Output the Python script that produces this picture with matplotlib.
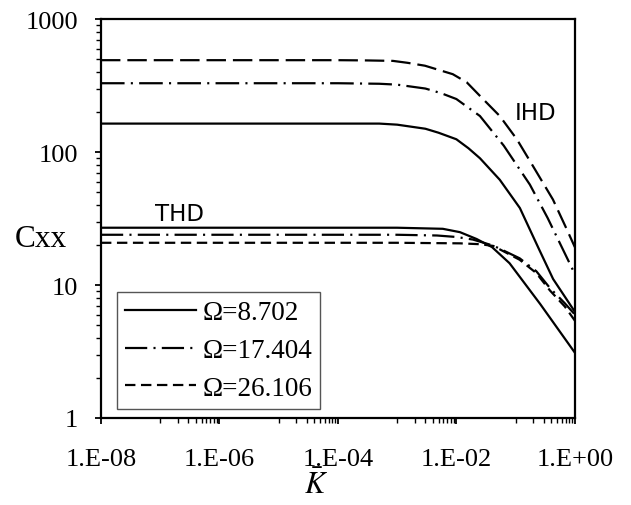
import matplotlib
matplotlib.use('Agg')
import matplotlib.pyplot as plt
from matplotlib.ticker import FixedLocator, FixedFormatter, NullFormatter

plt.rcParams['font.family'] = ['Liberation Serif', 'DejaVu Serif']
plt.rcParams['mathtext.fontset'] = 'stix'
plt.rcParams['lines.scale_dashes'] = False

# IHD curves (upper group)
k_ihd_1 = [1e-8, 1e-4, 5e-4, 1e-3, 3e-3, 5e-3, 1e-2, 1.6e-2, 2.5e-2, 5.4e-2, 0.118, 0.25, 0.43, 1.0]
c_ihd_1 = [164, 164, 164, 161, 150, 140, 125, 107, 90, 62, 38, 18.5, 11.1, 6.3]

k_ihd_2 = [1e-8, 1e-4, 5e-4, 1e-3, 3e-3, 5.5e-3, 1e-2, 2.5e-2, 6.3e-2, 0.174, 0.347, 1.0]
c_ihd_2 = [330, 330, 327, 322, 301, 278, 251, 187, 112, 57, 32, 12.1]

k_ihd_3 = [1e-8, 1e-4, 3e-4, 8.5e-4, 1.5e-3, 2.95e-3, 8.7e-3, 1.5e-2, 2.5e-2, 5.4e-2, 0.105, 0.195, 0.427, 0.724, 1.0]
c_ihd_3 = [492, 492, 490, 486, 470, 447, 386, 335, 265, 187, 125, 79, 44, 26.5, 19.3]

# THD curves (lower group)
k_thd_1 = [1e-8, 1e-3, 5.9e-3, 1.15e-2, 2.2e-2, 4e-2, 7.9e-2, 0.26, 1.0]
c_thd_1 = [27, 27, 26.5, 25, 22.2, 19.3, 14.6, 7.2, 3.1]

k_thd_2 = [1e-8, 1e-3, 4.7e-3, 1e-2, 1.9e-2, 4.2e-2, 0.117, 0.224, 0.38, 0.676, 1.0]
c_thd_2 = [23.9, 23.9, 23.6, 23.0, 22, 19.8, 15.9, 12.7, 9.5, 7.3, 6.0]

k_thd_3 = [1e-8, 1e-3, 1.15e-2, 2.5e-2, 4.2e-2, 0.117, 0.224, 0.38, 0.676, 1.0]
c_thd_3 = [20.8, 20.8, 20.6, 20.3, 19.7, 15.5, 12.3, 9.1, 6.9, 5.4]

labels = ['Ω=8.702', 'Ω=17.404', 'Ω=26.106']
x_major = [1e-8, 1e-6, 1e-4, 1e-2, 1e0]
x_major_labels = ['1.E-08', '1.E-06', '1.E-04', '1.E-02', '1.E+00']
y_major = [1, 10, 100, 1000]
y_major_labels = ['1', '10', '100', '1000']

fig = plt.figure(figsize=(6.31, 5.06), dpi=100)
ax = fig.add_axes([0.160, 0.172, 0.751, 0.788])

lw = 1.6
ax.plot(k_ihd_1, c_ihd_1, color='black', lw=lw, linestyle='-')
ax.plot(k_ihd_2, c_ihd_2, color='black', lw=lw, linestyle=(0, (17, 4.5, 1.5, 4.5)))
ax.plot(k_ihd_3, c_ihd_3, color='black', lw=lw, linestyle=(0, (14, 5)))

h1, = ax.plot(k_thd_1, c_thd_1, color='black', lw=lw, linestyle='-', label=labels[0])
h2, = ax.plot(k_thd_2, c_thd_2, color='black', lw=lw, linestyle=(0, (16, 4.5, 1.5, 4.5)), label=labels[1])
h3, = ax.plot(k_thd_3, c_thd_3, color='black', lw=lw, linestyle=(0, (7.5, 4)), label=labels[2])

ax.set_xscale('log')
ax.set_yscale('log')
ax.set_xlim(1e-8, 1e0)
ax.set_ylim(1, 1000)

# axis ticks
ax.xaxis.set_major_locator(FixedLocator(x_major))
ax.xaxis.set_major_formatter(FixedFormatter(x_major_labels))
x_minor = [m * 10.0**d for d in (-7, -5, -3, -1) for m in range(1, 10)]
ax.xaxis.set_minor_locator(FixedLocator(x_minor))
ax.xaxis.set_minor_formatter(NullFormatter())
ax.yaxis.set_major_locator(FixedLocator(y_major))
ax.yaxis.set_major_formatter(FixedFormatter(y_major_labels))
y_minor = [m * 10.0**d for d in (0, 1, 2) for m in range(2, 10)]
ax.yaxis.set_minor_locator(FixedLocator(y_minor))
ax.yaxis.set_minor_formatter(NullFormatter())

ax.tick_params(axis='both', which='major', direction='out', length=4.5, width=1.3, labelsize=19)
ax.tick_params(axis='both', which='minor', direction='out', length=3.5, width=1.0)
ax.tick_params(axis='x', which='major', pad=17)
ax.tick_params(axis='y', which='major', pad=12)
ax.tick_params(top=False, right=False, which='both')

for s in ax.spines.values():
    s.set_linewidth(1.6)

# annotations
ax.text(2.15e-7, 34.8, 'THD', family='DejaVu Sans', fontsize=16.5, ha='center', va='center')
ax.text(0.215, 200, 'IHD', family='DejaVu Sans', fontsize=16.5, ha='center', va='center')
fig.text(41 / 631, 1 - 240 / 506, 'Cxx', fontsize=22.5, ha='center', va='center')
fig.text(316 / 631, 1 - 486 / 506, r'$\bar{K}$', fontsize=22, ha='center', va='center')

leg = ax.legend(handles=[h1, h2, h3], loc='lower left', bbox_to_anchor=(0.034, 0.0226),
                borderaxespad=0, fontsize=19.5, handlelength=2.6, handletextpad=0.25,
                labelspacing=0.47, borderpad=0.3, fancybox=False, framealpha=1)
leg.get_frame().set_edgecolor('#555555')
leg.get_frame().set_linewidth(1.0)

plt.savefig('out.png', dpi=100, facecolor='white')
plt.close()
